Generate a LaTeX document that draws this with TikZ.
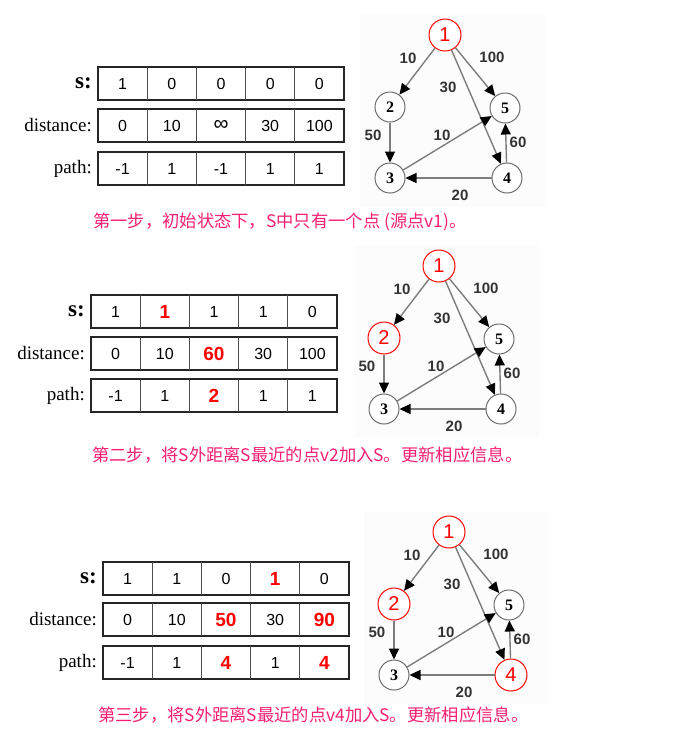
\documentclass[tikz,border=0pt]{standalone}
\usepackage{fontspec}
\setmainfont{Liberation Serif}
\setsansfont{Liberation Sans}
\newfontfamily\cjkf{Noto Sans CJK SC}
\usetikzlibrary{arrows.meta,calc}
\definecolor{capcol}{RGB}{245,30,115}
\definecolor{edgegray}{RGB}{125,125,125}
\definecolor{nodegray}{RGB}{110,110,110}
\newcommand{\R}[1]{{\color{red}\bfseries\fontsize{19}{19}\selectfont #1}}
\newcommand{\INF}{{\fontsize{21}{21}\selectfont ∞}}
\tikzset{
 rowframe/.style={draw=black!85,line width=2.2pt},
 celldiv/.style={draw=black!70,line width=1pt},
 cell/.style={font=\sffamily\fontsize{16}{16}\selectfont,inner sep=0pt},
 rowlabel/.style={anchor=east,font=\rmfamily\fontsize{19}{19}\selectfont,inner sep=0pt},
 slabel/.style={anchor=east,font=\rmfamily\bfseries\fontsize{23}{23}\selectfont,inner sep=0pt},
 vtx/.style={circle,draw=nodegray,line width=1pt,fill=white,minimum size=30pt,inner sep=0pt,font=\rmfamily\bfseries\fontsize{16}{16}\selectfont},
 vtxred/.style={circle,draw=red,line width=1pt,fill=white,minimum size=32pt,inner sep=0pt,text=red,font=\sffamily\fontsize{20}{20}\selectfont},
 wedge/.style={draw=edgegray,line width=1.4pt,-{Triangle[length=11pt,width=10pt,color=black]}},
 wlabel/.style={font=\sffamily\bfseries\fontsize{15}{15}\selectfont,text=black!80,inner sep=0pt},
 capt/.style={anchor=west,font=\cjkf\fontsize{17.3}{17.3}\selectfont,text=capcol,inner sep=0pt},
}
% #1 name, #2 x, #3 y top, #4 label style, #5 label, #6 values
\newcommand{\tabrow}[6]{%
  \draw[rowframe] (#2,#3) rectangle ++(246,33);
  \foreach \k in {1,...,4} \draw[celldiv] (#2+49.2*\k,#3) -- ++(0,33);
  \foreach \v [count=\i] in {#6} \node[cell] (#1c\i) at (#2+49.2*\i-24.6,#3+16.5) {\v};
  \node[#4] (#1l) at (#2-6,#3+16.5) {#5};
}
% #1 prefix, #2 x, #3 y, #4 style node 2, #5 style node 4
\newcommand{\dgraph}[5]{%
\begin{scope}[shift={(#2,#3)}]
 \fill[black!1] (-85,-20) rectangle (100,172);
 \node[vtxred] (#1a) at (0,0) {1};
 \node[#4] (#1b) at (-55,72) {2};
 \node[vtx] (#1e) at (60,73) {5};
 \node[vtx] (#1c) at (-55,143) {3};
 \node[#5] (#1d) at (62,143) {4};
 \draw[wedge] (#1a) -- (#1b);
 \draw[wedge] (#1a) -- (#1e);
 \draw[wedge] (#1a) -- (#1d);
 \draw[wedge] (#1b) -- (#1c);
 \draw[wedge] (#1c) -- (#1e);
 \draw[wedge] (#1d) -- (#1e);
 \draw[wedge] (#1d) -- (#1c);
 \node[wlabel] (#1w1) at (-37,23) {10};
 \node[wlabel] (#1w2) at (47,22) {100};
 \node[wlabel] (#1w3) at (3,52) {30};
 \node[wlabel] (#1w4) at (-72,100) {50};
 \node[wlabel] (#1w5) at (-3,100) {10};
 \node[wlabel] (#1w6) at (73,107) {60};
 \node[wlabel] (#1w7) at (15,160) {20};
\end{scope}}
\begin{document}
\begin{tikzpicture}[x=1pt,y=-1pt]
\useasboundingbox (0,0) rectangle (680,740);
% step 1
\tabrow{as}{98}{67}{slabel}{s:}{1,0,0,0,0}
\tabrow{ad}{98}{109}{rowlabel}{distance:}{0,10,\INF,30,100}
\tabrow{ap}{98}{152}{rowlabel}{path:}{-1,1,-1,1,1}
\node[capt] (cap1) at (93,222) {第一步，初始状态下，S中只有一个点 (源点v1)。};
\dgraph{g}{445}{35}{vtx}{vtx}
% step 2
\tabrow{bs}{91}{295}{slabel}{s:}{1,\R{1},1,1,0}
\tabrow{bd}{91}{337}{rowlabel}{distance:}{0,10,\R{60},30,100}
\tabrow{bp}{91}{379}{rowlabel}{path:}{-1,1,\R{2},1,1}
\node[capt] (cap2) at (92,455) {第二步，将S外距离S最近的点v2加入S。更新相应信息。};
\dgraph{h}{439}{266}{vtxred}{vtx}
% step 3
\tabrow{cs}{103}{562}{slabel}{s:}{1,1,0,\R{1},0}
\tabrow{cd}{103}{603}{rowlabel}{distance:}{0,10,\R{50},30,\R{90}}
\tabrow{cp}{103}{646}{rowlabel}{path:}{-1,1,\R{4},1,\R{4}}
\node[capt] (cap3) at (98,715) {第三步，将S外距离S最近的点v4加入S。更新相应信息。};
\dgraph{k}{449}{532}{vtxred}{vtxred}
\end{tikzpicture}
\end{document}
